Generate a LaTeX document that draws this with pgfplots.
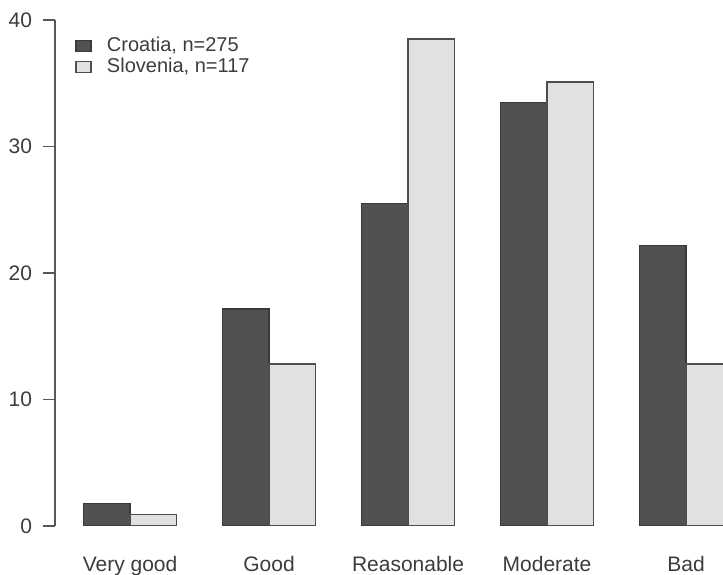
\documentclass[border=0pt]{standalone}
\usepackage{pgfplots}
\pgfplotsset{compat=1.18}
\usepackage{fontspec}
\setmainfont{Liberation Sans}
\definecolor{darkbar}{HTML}{515153}
\definecolor{lightbar}{HTML}{E0E1E3}
\definecolor{edge}{HTML}{3A3A3C}
\definecolor{txt}{HTML}{3C3C3C}
\pgfplotsset{boxlegend/.style={legend image code/.code={\draw[##1,line width=0.6pt] (0pt,-2.75pt) rectangle (7.5pt,2.75pt); \path[draw=none,fill=none] (0pt,0pt) -- (13.5pt,0pt);}}}
\begin{document}
\begin{tikzpicture}
\begin{axis}[
 scale only axis, width=334pt, height=253pt,
 xmin=-0.54, xmax=4.266, ymin=0, ymax=40,
 axis y line*=left, axis x line*=bottom,
 x axis line style={draw=none},
 y axis line style={draw=edge!85, line width=0.7pt},
 xtick={0,...,4}, xticklabels={Very good,Good,Reasonable,Moderate,Bad},
 ytick={0,10,20,30,40},
 xtick style={draw=none},
 ytick style={draw=edge!85, line width=0.7pt},
 tick align=outside, major tick length=6pt,
 /pgf/number format/assume math mode=true,
 tick label style={font=\fontsize{10.5}{12}\selectfont, text=txt},
 yticklabel style={xshift=-2pt},
 xticklabel style={yshift=-5.5pt},
 ybar, bar width=0.3333,
 legend style={at={(0,1)}, anchor=north west, xshift=7pt, yshift=-4.5pt, draw=none, fill=none,
   font=\fontsize{10}{11}\selectfont, text=txt, row sep=-2.5pt},
 legend cell align=left,
]
\addplot[fill=darkbar, draw=edge, line width=0.6pt, bar shift=0pt, boxlegend] coordinates {(-0.1667,1.8) (0.8333,17.15) (1.8333,25.5) (2.8333,33.5) (3.8333,22.2)};
\addplot[fill=lightbar, draw=edge!90, line width=0.6pt, bar shift=0pt, boxlegend] coordinates {(0.1667,0.9) (1.1667,12.8) (2.1667,38.5) (3.1667,35.1) (4.1667,12.8)};
\legend{{Croatia, n=275}, {Slovenia, n=117}}
\end{axis}
\pgfresetboundingbox
\useasboundingbox ([shift={(-27.5pt,-24.5pt)}]current axis.south west) rectangle ([shift={(0pt,10pt)}]current axis.north east);
\end{tikzpicture}
\end{document}
